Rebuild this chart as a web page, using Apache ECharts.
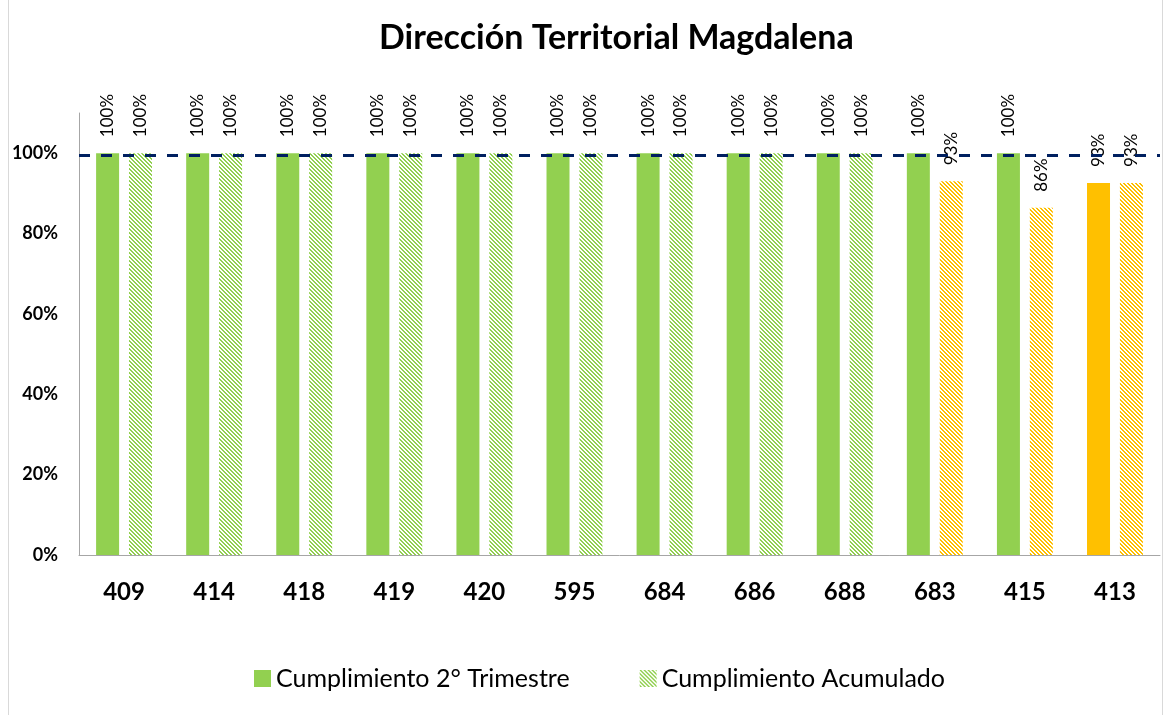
<!DOCTYPE html>
<html>
<head>
<meta charset="utf-8">
<script src="https://cdn.jsdelivr.net/npm/echarts@6/dist/echarts.min.js"></script>
<style>
  html, body { margin: 0; padding: 0; background: #fff; }
  #frame { position: absolute; left: 8px; top: -1px; width: 1155px; height: 717px; border: 1px solid #d9d9d9; box-sizing: border-box; }
  #chart { position: absolute; left: 0; top: 0; width: 1170px; height: 715px; }
</style>
</head>
<body>
<div id="frame"></div>
<div id="chart"></div>
<script>
// datos
var categorias = ['409', '414', '418', '419', '420', '595', '684', '686', '688', '683', '415', '413'];
var trimestre = [100, 100, 100, 100, 100, 100, 100, 100, 100, 100, 100, 92.6];
var acumulado = [100, 100, 100, 100, 100, 100, 100, 100, 100, 93, 86.4, 92.6];
var meta = 99.5;
var yTicks = [0, 20, 40, 60, 80, 100];

var VERDE = '#92D050';
var NARANJA = '#FFC000';

// trama diagonal tipo Excel
function trama(color) {
  var c = document.createElement('canvas');
  c.width = 8; c.height = 8;
  var ctx = c.getContext('2d');
  ctx.fillStyle = color;
  for (var y = 0; y < 8; y++) {
    for (var k = 0; k < 2; k++) {
      ctx.fillRect((y + k) % 8, y, 1, 1);
      ctx.fillRect((y + k + 4) % 8, y, 1, 1);
    }
  }
  return { image: c, repeat: 'repeat' };
}

function colorBarra(v) { return v < 100 ? NARANJA : VERDE; }

var etiqueta = {
  show: true,
  position: 'top',
  rotate: 90,
  align: 'left',
  verticalAlign: 'middle',
  distance: 16,
  fontFamily: 'Lato',
  fontSize: 17,
  color: '#000',
  formatter: function (p) { return Math.round(p.value) + '%'; }
};

var myChart = echarts.init(document.getElementById('chart'));
myChart.setOption({
  animation: false,
  title: {
    text: 'Dirección Territorial Magdalena',
    left: 374,
    top: 16,
    textStyle: { fontFamily: 'Lato', fontWeight: 'bold', fontSize: 34, color: '#000' }
  },
  legend: {
    bottom: 19,
    left: 249,
    icon: 'rect',
    itemWidth: 17,
    itemHeight: 17,
    itemGap: 70,
    textStyle: { fontFamily: 'Lato', fontSize: 25, color: '#000' },
    data: ['Cumplimiento 2° Trimestre', 'Cumplimiento Acumulado']
  },
  grid: { left: 79, right: 10, top: 113, bottom: 160, containLabel: false },
  xAxis: {
    type: 'category',
    data: categorias,
    axisLine: { lineStyle: { color: '#a6a6a6', width: 1 } },
    axisTick: { show: false },
    axisLabel: { margin: 25, fontFamily: 'Lato', fontWeight: 'bold', fontSize: 24, color: '#000' }
  },
  yAxis: {
    type: 'value',
    min: 0,
    max: 110,
    interval: 20,
    splitLine: { show: false },
    axisLine: { show: true, lineStyle: { color: '#a6a6a6', width: 1 } },
    axisTick: { show: false },
    axisLabel: {
      margin: 21,
      fontFamily: 'Lato', fontWeight: 'bold', fontSize: 18, color: '#000',
      formatter: function (v) { return yTicks.indexOf(v) >= 0 ? v + '%' : ''; }
    }
  },
  series: [
    {
      name: 'Cumplimiento 2° Trimestre',
      type: 'bar',
      barWidth: 23,
      barGap: '43%',
      itemStyle: { color: VERDE },
      label: etiqueta,
      data: trimestre.map(function (v) { return { value: v, itemStyle: { color: colorBarra(v) } }; }),
      markLine: {
        silent: true,
        symbol: 'none',
        label: { show: false },
        lineStyle: { color: '#002060', width: 3, type: [11, 11] },
        data: [{ yAxis: meta }],
        z: 10
      }
    },
    {
      name: 'Cumplimiento Acumulado',
      type: 'bar',
      barWidth: 23,
      itemStyle: { color: trama(VERDE) },
      label: etiqueta,
      data: acumulado.map(function (v) { return { value: v, itemStyle: { color: trama(colorBarra(v)) } }; })
    }
  ]
});
</script>
</body>
</html>
